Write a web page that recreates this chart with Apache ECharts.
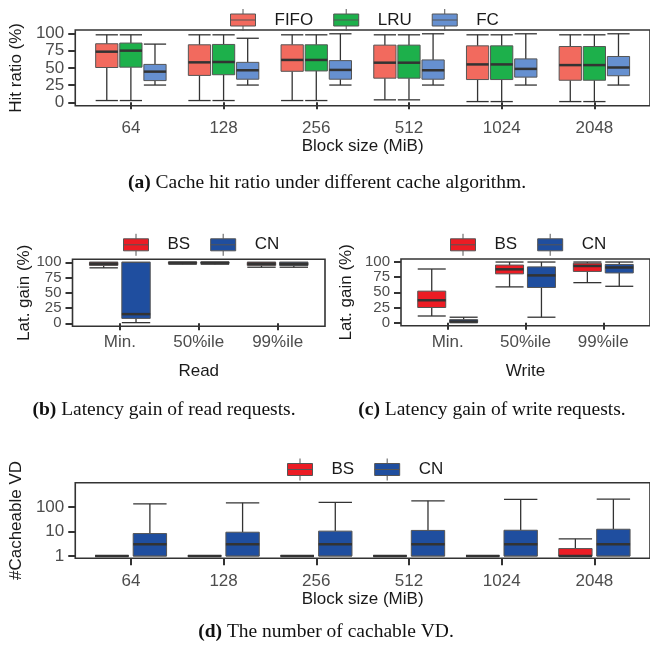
<!DOCTYPE html>
<html>
<head>
<meta charset="utf-8">
<script src="https://cdn.jsdelivr.net/npm/echarts@6/dist/echarts.min.js"></script>
<style>html,body{margin:0;padding:0;background:#fff}#c{width:650px;height:650px}</style>
</head>
<body>
<div id="c"></div>
<script>
// ---------- data ----------
const blockSizes = ['64', '128', '256', '512', '1024', '2048'];
const latCategories = ['Min.', '50%ile', '99%ile'];
const pctTicks = [0, 25, 50, 75, 100];
const vdTicks = [1, 10, 100];
// each item: [min, Q1, median, Q3, max]
const hitFIFO = [[2.5,50.5,73.5,85,98],[2.5,39,58,83.5,98],[2.5,45,61.5,83.5,98],[3.5,35,57.5,83,98],[1,33,55,82,98],[1,32,54,81,98]];
const hitLRU  = [[2.5,51,75,86,98],[2.5,40,58.5,84,98],[2.5,45.5,61.5,83.5,98],[3.5,35,57.5,83,98],[1,33,55,82,98],[1,32,54,81,98]];
const hitFC   = [[25,31.5,44.5,55,84.5],[25,33.5,46.5,58,93],[25,33.5,47,60.5,99.5],[25,33.5,46.5,61.5,99.5],[25,36.5,48.5,63,99.5],[25,38.5,50.5,66.5,99.5]];
const readBS  = [[91,95,97.5,100,100],[97,98.5,99.5,100,100],[92,95,97.5,100,100]];
const readCN  = [[1,8,15,100,100],[97,98.5,99.5,100,100],[92,95,97,100,100]];
const writeBS = [[11,25,37,52,88.5],[59,80.5,88,95,100],[66,84.5,93.5,98,100]];
const writeCN = [[0,0.5,2,5,9],[9,58,78,92,100],[60,82,91,96,100]];
const vdBS    = [[1,1,1,1,1],[1,1,1,1,1],[1,1,1,1,1],[1,1,1,1,1],[1,1,1,1,1],[1,1,1,2,5]];
const vdCN    = [[1,1,3,8.2,135],[1,1,3,9.3,148],[1,1,3,10.3,155],[1,1,3,11,178],[1,1,3,11.2,205],[1,1,3,12.3,210]];

// ---------- styles ----------
const C = { FIFO:'#F26A5E', LRU:'#1DB04B', FC:'#6690D0', BS:'#EC1C24', CN:'#1F4E9F' };
const SANS = 'Liberation Sans';
const SERIF = 'Liberation Serif';
const tickCol = '#4d4d4d', titleCol = '#1a1a1a', lineCol = '#333';

function boxSeries(name, data, gi, offset, width, color) {
  return {
    type: 'custom', name: name, xAxisIndex: gi, yAxisIndex: gi,
    itemStyle: { color: color },
    encode: { x: 0, y: [1,2,3,4,5] },
    data: data.map((d, i) => [i + 1].concat(d)),
    clip: false,
    renderItem: function (params, api) {
      const x = api.value(0) + offset;
      const v = [1,2,3,4,5].map(k => api.value(k));
      const p = v.map(val => api.coord([x, val]));
      const cx = p[0][0];
      const hw = api.coord([x + width / 2, v[2]])[0] - cx;
      const ls = { stroke: lineCol, lineWidth: 1.3 };
      return { type: 'group', children: [
        { type: 'line', shape: { x1: cx, y1: p[4][1], x2: cx, y2: p[3][1] }, style: ls },
        { type: 'line', shape: { x1: cx, y1: p[1][1], x2: cx, y2: p[0][1] }, style: ls },
        { type: 'line', shape: { x1: cx - hw, y1: p[4][1], x2: cx + hw, y2: p[4][1] }, style: ls },
        { type: 'line', shape: { x1: cx - hw, y1: p[0][1], x2: cx + hw, y2: p[0][1] }, style: ls },
        { type: 'rect', shape: { x: cx - hw, y: p[3][1], width: 2 * hw, height: p[1][1] - p[3][1] },
          style: { fill: color, stroke: '#555', lineWidth: 1 } },
        { type: 'line', shape: { x1: cx - hw, y1: p[2][1], x2: cx + hw, y2: p[2][1] },
          style: { stroke: lineCol, lineWidth: 2.5 } }
      ]};
    }
  };
}

const grids = [
  { left: 73.3, top: 30, width: 579.5, height: 75.7 },
  { left: 72.5, top: 259.3, width: 252.5, height: 67 },
  { left: 401, top: 259, width: 251.2, height: 66.7 },
  { left: 73.3, top: 482.7, width: 579.5, height: 75.6 }
].map(g => Object.assign(g, { show: true, borderColor: lineCol, borderWidth: 1.6, backgroundColor: '#fff' }));

function xAx(gi, cats, name, labelMargin, nameGap) {
  const vals = cats.map((c, i) => i + 1);
  return {
    type: 'value', gridIndex: gi, min: 0.4, max: cats.length + 0.6,
    axisLine: { show: false }, splitLine: { show: false },
    axisTick: { show: true, customValues: vals, length: 7, lineStyle: { color: lineCol, width: 2 } },
    axisLabel: { customValues: vals, formatter: v => cats[Math.round(v) - 1], margin: labelMargin,
                 fontFamily: SANS, fontSize: 17, color: tickCol },
    name: name, nameLocation: 'middle', nameGap: nameGap,
    nameTextStyle: { fontFamily: SANS, fontSize: 17, color: titleCol }
  };
}
function yAx(gi, name, nameGap, fs) {
  return {
    type: 'value', gridIndex: gi, min: -5, max: 105,
    axisLine: { show: false }, splitLine: { show: false },
    axisTick: { show: true, customValues: pctTicks, length: 7, lineStyle: { color: lineCol, width: 2 } },
    axisLabel: { customValues: pctTicks, margin: 11, fontFamily: SANS, fontSize: fs, color: tickCol },
    name: name, nameLocation: 'middle', nameGap: nameGap,
    nameTextStyle: { fontFamily: SANS, fontSize: 17, color: titleCol }
  };
}

const icon = 'path://M0,5L25,5L25,17L0,17ZM12.5,0L12.5,5M12.5,17L12.5,22M0,11L25,11';
function legend(names, left, cy) {
  return {
    data: names, left: left, top: cy - 11, orient: 'horizontal', padding: 0,
    icon: icon, itemWidth: 25, itemHeight: 22, itemGap: 20, selectedMode: false,
    itemStyle: { borderColor: '#555', borderWidth: 1 },
    textStyle: { fontFamily: SANS, fontSize: 17, color: titleCol, padding: [0, 0, 0, 14] }
  };
}

function caption(tag, text, x, y) {
  return { type: 'text', x: x, y: y, silent: true,
    style: { text: '{b|' + tag + '} ' + text, textAlign: 'center', textVerticalAlign: 'middle',
      fontFamily: SERIF, fontSize: 19.5, fill: '#111',
      rich: { b: { fontFamily: SERIF, fontSize: 19.5, fontWeight: 'bold', fill: '#111' } } } };
}

const yLog = {
  type: 'log', logBase: 10, gridIndex: 3, min: 0.8, max: 980,
  axisLine: { show: false }, splitLine: { show: false }, minorTick: { show: false },
  axisTick: { show: true, customValues: vdTicks, length: 7, lineStyle: { color: lineCol, width: 2 } },
  axisLabel: { customValues: vdTicks, margin: 11, fontFamily: SANS, fontSize: 17, color: tickCol },
  name: '#Cacheable VD', nameLocation: 'middle', nameGap: 37,
  nameTextStyle: { fontFamily: SANS, fontSize: 17, color: titleCol }
};

const option = {
  animation: false,
  backgroundColor: '#fff',
  grid: grids,
  xAxis: [
    xAx(0, blockSizes, 'Block size (MiB)', 14, 32),
    xAx(1, latCategories, 'Read', 8, 37),
    xAx(2, latCategories, 'Write', 8, 37),
    xAx(3, blockSizes, 'Block size (MiB)', 15, 29)
  ],
  yAxis: [
    yAx(0, 'Hit ratio (%)', 37, 17),
    yAx(1, 'Lat. gain (%)', 40, 15),
    yAx(2, 'Lat. gain (%)', 46, 15),
    yLog
  ],
  legend: [
    legend(['FIFO', 'LRU', 'FC'], 230, 19.5),
    legend(['BS', 'CN'], 123, 244.3),
    legend(['BS', 'CN'], 450, 244.3),
    legend(['BS', 'CN'], 287, 469)
  ],
  series: [
    boxSeries('FIFO', hitFIFO, 0, -0.26, 0.24, C.FIFO),
    boxSeries('LRU', hitLRU, 0, 0, 0.24, C.LRU),
    boxSeries('FC', hitFC, 0, 0.26, 0.24, C.FC),
    boxSeries('BS', readBS, 1, -0.205, 0.36, C.BS),
    boxSeries('CN', readCN, 1, 0.205, 0.36, C.CN),
    boxSeries('BS', writeBS, 2, -0.205, 0.36, C.BS),
    boxSeries('CN', writeCN, 2, 0.205, 0.36, C.CN),
    boxSeries('BS', vdBS, 3, -0.205, 0.36, C.BS),
    boxSeries('CN', vdCN, 3, 0.205, 0.36, C.CN)
  ],
  graphic: [
    caption('(a)', 'Cache hit ratio under different cache algorithm.', 327, 183),
    caption('(b)', 'Latency gain of read requests.', 164, 410),
    caption('(c)', 'Latency gain of write requests.', 492, 410),
    caption('(d)', 'The number of cachable VD.', 326, 632)
  ]
};

const chart = echarts.init(document.getElementById('c'), null, { renderer: 'canvas' });
chart.setOption(option);
</script>
</body>
</html>
